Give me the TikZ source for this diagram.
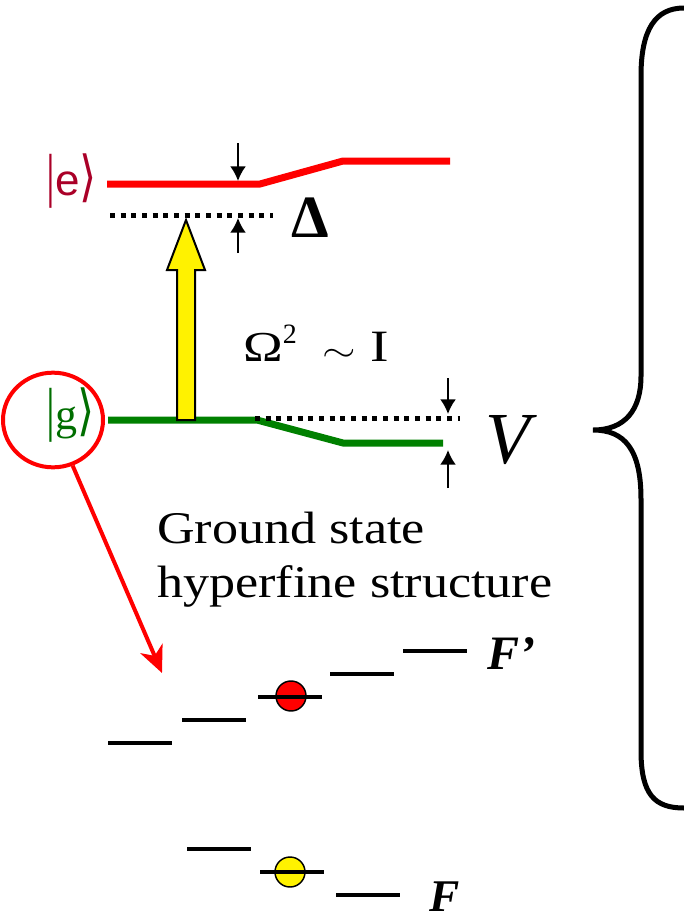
\documentclass[tikz,border=0pt]{standalone}
\usepackage{fontspec}
\setmainfont{Liberation Serif}
\newfontfamily\sansfam{Liberation Sans}
\newfontfamily\symfam{DejaVu Sans}
\newfontfamily\hfsfam[FakeStretch=1.15]{Liberation Serif}
\usetikzlibrary{arrows.meta,shapes.geometric}
\definecolor{ketred}{RGB}{170,0,40}
\definecolor{ketgreen}{RGB}{0,110,0}
\definecolor{lvlgreen}{RGB}{0,128,0}
\newcommand{\ketbar}{\scalebox{1}[1.35]{|}}
\newcommand{\ketend}{{\symfam\scalebox{1}[1.25]{⟩}}}

\begin{document}
\begin{tikzpicture}[line join=miter,x=0.75pt,y=-0.75pt,
	every node/.style={inner sep=0pt},
	eline/.style={line width=5.25pt,color=red},
	gline/.style={line width=5.25pt,color=lvlgreen},
	dotline/.style={line width=3.75pt,dash pattern=on 3.75pt off 4.25pt},
	gap/.style={line width=1.6pt,-{Latex[length=11pt,width=12pt]}},
	level/.style={line width=3pt},
	atom/.style={circle,draw,line width=1.1pt,minimum size=22.5pt}]
		\useasboundingbox (0,0) rectangle (684,921);
		% Niveau e
		\coordinate (e1) at (107,184);
		\coordinate (e2) at (260,184);
		\coordinate (e3) at (343,161);
		\coordinate (e4) at (450,161);
		\draw[eline] (e1)--(e2)--(e3)--(e4);
		\node[anchor=base west,text=ketred,font=\fontsize{33}{33}\selectfont] (lblE) at (46,195) {\ketbar{\sansfam e}\ketend};
		\coordinate (d1) at (110,215);
		\coordinate (d2) at (273,215);
		\draw[dotline] (d1)--(d2);
		\coordinate (dlA) at (238,143);
		\coordinate (dlB) at (238,181);
		\coordinate (dlC) at (238,218);
		\coordinate (dlD) at (238,253);
		\draw[gap] (dlA)--(dlB);
		\draw[gap] (dlD)--(dlC);
		\node[anchor=base west,font=\fontsize{45}{45}\selectfont\bfseries] (lblDelta) at (291,237) {Δ};
		% Niveau g
		\coordinate (g1) at (108,420);
		\coordinate (g2) at (257,420);
		\coordinate (g3) at (343,443);
		\coordinate (g4) at (443,443);
		\draw[gline] (g1)--(g2)--(g3)--(g4);
		\node[anchor=base west,text=ketgreen,font=\fontsize{33}{33}\selectfont] (lblG) at (46,429) {\ketbar g\ketend};
		\node[ellipse,draw=red,line width=3pt,minimum width=75pt,minimum height=71pt] (gc) at (53,420) {};
		\coordinate (v1) at (255,418);
		\coordinate (v2) at (460,418);
		\draw[dotline] (v1)--(v2);
		\coordinate (vA) at (448,378);
		\coordinate (vB) at (448,414);
		\coordinate (vC) at (448,450);
		\coordinate (vD) at (448,488);
		\draw[gap] (vA)--(vB);
		\draw[gap] (vD)--(vC);
		\node[anchor=base west,font=\fontsize{55}{55}\selectfont\itshape] (lblV) at (485,463) {V};
		% Laser
		\draw[line width=1.5pt,fill=yellow] (177,420)--(177,270)--(167,270)--(186,220)--(205,270)--(195,270)--(195,420)--cycle;
		\node[anchor=base west,font=\fontsize{32}{32}\selectfont] (lblOmega) at (243,361) {\scalebox{1.25}[1]{Ω}\raisebox{0.4em}{\fontsize{21}{21}\selectfont 2}\hspace{0.6em}\scalebox{1.3}[1]{$\sim$}\hspace{0.35em}\scalebox{1.3}[1.05]{I}};
		% Structure hyperfine
		\node[anchor=north west,align=left,font=\hfsfam\fontsize{34}{40.5}\selectfont] (lblHfs) at (157,512) {Ground state\\hyperfine structure};
		\coordinate (hfs) at (162,673);
		\draw[red,line width=3pt,-{Stealth[length=20pt,width=18pt,inset=6pt]}] (gc)--(hfs);
		\node[atom,fill=red] (upAtom) at (291,696) {};
		\node[atom,fill=yellow] (lowAtom) at (290,872) {};
		\foreach \x/\y [count=\i] in {108/743,182/720,258/697,330/674,403/651}
			\draw[level] (\x,\y) coordinate (up\i)--++(64,0);
		\foreach \x/\y [count=\i] in {187/849,260/872,336/895}
			\draw[level] (\x,\y) coordinate (lo\i)--++(64,0);
		\node[anchor=base west,font=\fontsize{36}{36}\selectfont\bfseries\itshape] (lblFp) at (487,669) {F’};
		\node[anchor=base west,font=\fontsize{34}{34}\selectfont\bfseries\itshape] (lblF) at (429,911) {F};
		% Accolade
		\draw[line width=3.75pt] (684,8) .. controls (655,8) and (641,30) .. (641,76)--(641,376) .. controls (641,410) and (625,430) .. (593,430) .. controls (625,430) and (641,450) .. (641,499)--(641,751) .. controls (641,795) and (655,808) .. (684,808);
\end{tikzpicture}
\end{document}
